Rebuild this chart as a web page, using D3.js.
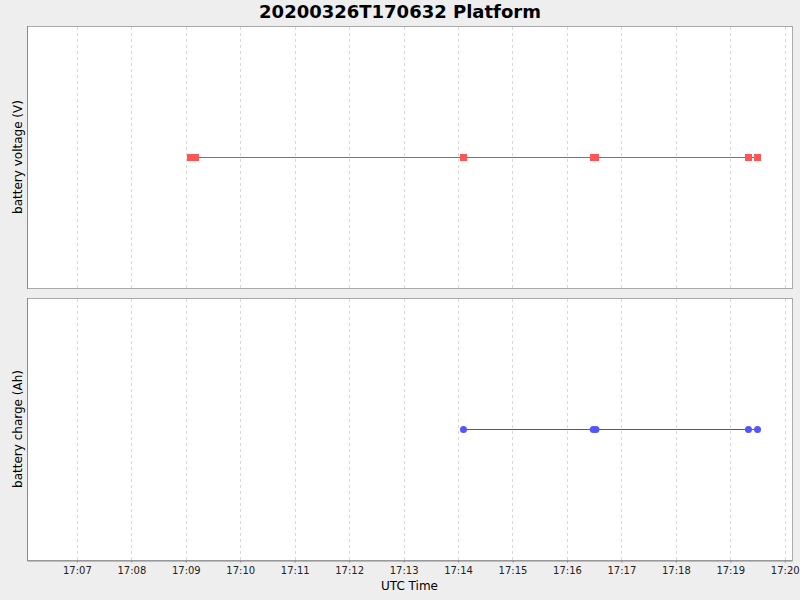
<!DOCTYPE html>
<html>
<head>
<meta charset="utf-8">
<script src="https://cdn.jsdelivr.net/npm/d3@7.9.0/dist/d3.min.js"></script>
<style>
  body { margin: 0; background: #eeeeee; }
  svg { display: block; font-family: "DejaVu Sans", sans-serif; }
</style>
</head>
<body>
<svg id="chart"></svg>
<script>
const width = 800;
const height = 600;

// data
const title = "20200326T170632 Platform";
const timeDomain = ["17:06:05", "17:20:08"];
const voltageTimes = ["17:09:05", "17:09:08", "17:09:11", "17:14:06", "17:16:29", "17:16:32", "17:19:20", "17:19:30"];
const voltageValues = [12.6, 12.6, 12.6, 12.6, 12.6, 12.6, 12.6, 12.6];
const chargeTimes = ["17:14:06", "17:16:29", "17:16:32", "17:19:20", "17:19:30"];
const chargeValues = [10, 10, 10, 10, 10];

const parse = d3.utcParse("%H:%M:%S");

const svg = d3.select("#chart").attr("width", width).attr("height", height);

svg.append("rect").attr("width", width).attr("height", height).attr("fill", "#eeeeee");

svg.append("text")
    .attr("x", width / 2)
    .attr("y", 18)
    .attr("text-anchor", "middle")
    .style("font-size", "18px")
    .style("font-weight", "bold")
    .text(title);

const left = 27, right = 792;
const x = d3.scaleUtc().domain(timeDomain.map(parse)).range([left, right]);

const panels = [
    { top: 26, bottom: 288, label: "battery voltage (V)", times: voltageTimes, values: voltageValues, color: "#ff5555", lineColor: "#dd4a4a", shape: "square" },
    { top: 298, bottom: 560, label: "battery charge (Ah)", times: chargeTimes, values: chargeValues, color: "#5555ff", lineColor: "#4a4add", shape: "circle" }
];

panels.forEach((p, i) => {
    const data = p.times.map((t, j) => ({ t: parse(t), v: p.values[j] }));
    const v0 = p.values[0];
    const y = d3.scaleLinear().domain([v0 - 1, v0 + 1]).range([p.bottom, p.top]);
    const g = svg.append("g");

    g.append("rect")
        .attr("x", left + 0.5).attr("y", p.top + 0.5)
        .attr("width", right - left).attr("height", p.bottom - p.top)
        .attr("fill", "#ffffff")
        .attr("stroke", "#aaaaaa");

    // vertical dashed gridlines
    g.selectAll("line.grid")
        .data(x.ticks(d3.utcMinute.every(1)))
        .join("line")
        .attr("class", "grid")
        .attr("x1", d => Math.round(x(d)) + 0.5).attr("x2", d => Math.round(x(d)) + 0.5)
        .attr("y1", p.top + 1).attr("y2", p.bottom)
        .attr("stroke", "#d8d8d8")
        .attr("stroke-dasharray", "3,3");

    // left axis line
    g.append("line")
        .attr("x1", left + 0.5).attr("x2", left + 0.5)
        .attr("y1", p.top).attr("y2", p.bottom + 1)
        .attr("stroke", "#888888");

    g.append("text")
        .attr("transform", `translate(22,${(p.top + p.bottom) / 2}) rotate(-90)`)
        .attr("text-anchor", "middle")
        .style("font-size", "12px")
        .text(p.label);

    const line = d3.line().x(d => x(d.t)).y(d => Math.round(y(d.v)) + 0.5);
    g.append("path")
        .datum(data)
        .attr("d", line)
        .attr("fill", "none")
        .attr("stroke", p.lineColor)
        .attr("stroke-width", 1)
        .attr("shape-rendering", "crispEdges");

    if (p.shape === "square") {
        g.selectAll("rect.pt").data(data).join("rect")
            .attr("class", "pt")
            .attr("x", d => Math.round(x(d.t) - 3.5))
            .attr("y", d => Math.round(y(d.v)) - 3)
            .attr("width", 7).attr("height", 7)
            .attr("fill", p.color);
    } else {
        g.selectAll("circle.pt").data(data).join("circle")
            .attr("class", "pt")
            .attr("cx", d => x(d.t))
            .attr("cy", d => Math.round(y(d.v)) + 0.5)
            .attr("r", 3.5)
            .attr("fill", p.color);
    }

    if (i === panels.length - 1) {
        const axis = g.append("g")
            .attr("transform", `translate(0,${p.bottom + 0.5})`)
            .call(d3.axisBottom(x)
                .ticks(d3.utcMinute.every(1))
                .tickFormat(d3.utcFormat("%H:%M"))
                .tickSizeInner(2)
                .tickSizeOuter(0)
                .tickPadding(4));
        axis.select(".domain").attr("stroke", "#888888");
        axis.selectAll(".tick line").attr("stroke", "#888888");
        axis.selectAll(".tick text")
            .style("font-family", "DejaVu Sans, sans-serif")
            .style("font-size", "10px")
            .attr("fill", "#222");

        g.append("text")
            .attr("x", (left + right) / 2)
            .attr("y", 590)
            .attr("text-anchor", "middle")
            .style("font-size", "12px")
            .text("UTC Time");
    }
});
</script>
</body>
</html>
